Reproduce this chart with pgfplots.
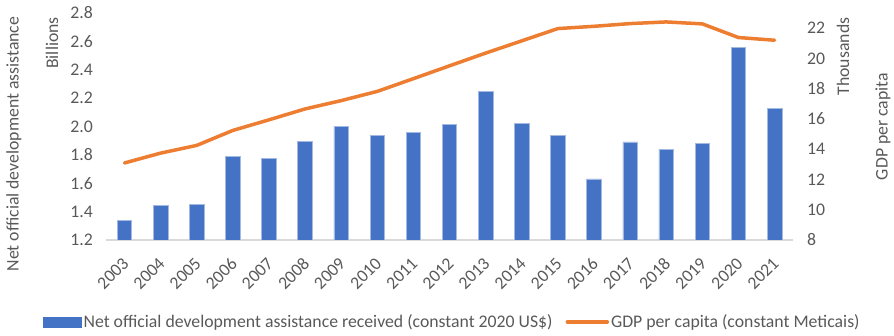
\documentclass[border=0pt]{standalone}
\usepackage{fontspec}
\setmainfont{Carlito}
\usepackage{pgfplots}
\pgfplotsset{compat=1.18}
\definecolor{barblue}{HTML}{4472C4}
\definecolor{baredge}{HTML}{A4B9E2}
\definecolor{lineorange}{HTML}{ED7D31}
\definecolor{txtgray}{HTML}{595959}
\definecolor{axgray}{HTML}{D9D9D9}
\newcommand{\cf}{\fontsize{17.8}{21}\selectfont}
\begin{document}
\begin{tikzpicture}
\useasboundingbox (0,0) rectangle (894bp,336bp);
\pgfplotsset{
  common/.style={
    scale only axis, width=686.2bp, height=227bp,
    at={(106.4bp,96bp)}, anchor=south west,
    xmin=-0.5, xmax=18.5,
    major tick length=0pt,
    tick style={draw=none},
    tick label style={font=\cf, text=txtgray},
    /pgf/number format/assume math mode=true,
  }
}
\begin{axis}[common,
  ymin=1.2, ymax=2.8, ytick={1.2,1.4,1.6,1.8,2.0,2.2,2.4,2.6,2.8},
  y tick label style={/pgf/number format/.cd, fixed, fixed zerofill, precision=1, /tikz/.cd, xshift=-10bp},
  axis y line*=left, axis x line*=bottom,
  y axis line style={draw=none},
  x axis line style={draw=axgray, line width=1.3bp, -},
  xtick={0,...,18},
  xticklabels={2003,2004,2005,2006,2007,2008,2009,2010,2011,2012,2013,2014,2015,2016,2017,2018,2019,2020,2021},
  x tick label style={xshift=2bp, yshift=-20bp, rotate=45, anchor=east, inner sep=1bp},
  ybar, bar width=14.5bp,
]
\addplot[fill=barblue, draw=baredge, line width=0.6bp] coordinates {
(0,1.340) (1,1.445) (2,1.449) (3,1.790) (4,1.776) (5,1.896) (6,2.001) (7,1.935) (8,1.959) (9,2.015)
(10,2.248) (11,2.022) (12,1.935) (13,1.630) (14,1.891) (15,1.839) (16,1.881) (17,2.558) (18,2.125)
};
\end{axis}
\begin{axis}[common,
  ymin=8, ymax=23, ytick={8,10,12,14,16,18,20,22},
  y tick label style={xshift=11bp},
  axis y line*=right, axis x line=none,
  y axis line style={draw=none},
  xtick=\empty,
  legend style={at={(-0.0924,-0.361)}, anchor=west, draw=none, fill=none,
    legend columns=2, font=\cf, text=txtgray, inner sep=0pt,
    nodes={inner sep=2bp},
    /tikz/every even column/.append style={column sep=11bp}},
]
\addlegendimage{legend image code/.code={\fill[barblue] (0bp,-5bp) rectangle (38bp,5bp);}}
\addlegendentry{Net official development assistance received (constant 2020 US\$)}
\addplot[lineorange, line width=3.5bp, line join=round, line cap=round,
  legend image code/.code={\draw[lineorange, line width=3.5bp] (0bp,0bp) -- (40bp,0bp);}] coordinates {
(0,13.09) (1,13.74) (2,14.25) (3,15.24) (4,15.94) (5,16.66) (6,17.21) (7,17.82) (8,18.66) (9,19.51)
(10,20.35) (11,21.16) (12,21.97) (13,22.12) (14,22.30) (15,22.41) (16,22.28) (17,21.38) (18,21.20)
};
\addlegendentry{GDP per capita (constant Meticais)}
\end{axis}
\node[rotate=90, font=\cf, text=txtgray] at (14bp,192bp) {Net official development assistance};
\node[rotate=90, font=\cf, text=txtgray] at (52bp,293bp) {Billions};
\node[rotate=90, font=\cf, text=txtgray] at (843bp,279.5bp) {Thousands};
\node[rotate=90, font=\cf, text=txtgray] at (883bp,209.5bp) {GDP per capita};
\end{tikzpicture}
\end{document}
